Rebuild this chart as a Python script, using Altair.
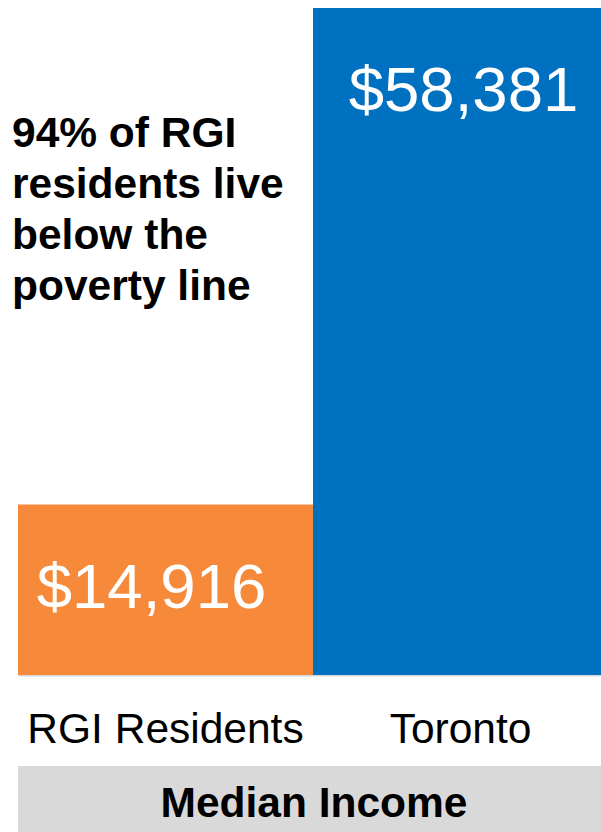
import altair as alt
import pandas as pd

categories = ["RGI Residents", "Toronto"]
values = [14916, 58381]
colors = ["#F78A3A", "#0070C0"]
annotation_lines = ["94% of RGI", "residents live", "below the", "poverty line"]
band_title = ["Median Income"]

FONT = "Liberation Sans"

df = pd.DataFrame({"category": categories, "value": values})
ann_df = pd.DataFrame({"k": [0]})
band_df = pd.DataFrame({"title": band_title})

x_enc = alt.X(
    "category:N",
    sort=categories,
    scale=alt.Scale(paddingInner=0, paddingOuter=0, range=[0, 590]),
    axis=alt.Axis(
        title=None,
        labelAngle=0,
        labelFont=FONT,
        labelFontSize=42.5,
        labelColor="#000000",
        labelLimit=500,
        labelPadding=67,
        labelBaseline="alphabetic",
        ticks=False,
        domainColor="#D9D9D9",
        domainWidth=2,
    ),
)
y_enc = alt.Y("value:Q", scale=alt.Scale(nice=False, zero=True), axis=None)

bars = alt.Chart(df).mark_bar().encode(
    x=x_enc,
    y=y_enc,
    color=alt.Color(
        "category:N",
        scale=alt.Scale(domain=categories, range=colors),
        legend=None,
    ),
)

def value_label(cat, dx):
    return (
        alt.Chart(df)
        .transform_filter(alt.datum.category == cat)
        .mark_text(
            font=FONT,
            fontSize=63.5,
            color="white",
            baseline="alphabetic",
            align="center",
            dy=103,
            dx=dx,
        )
        .encode(
            x=alt.X("category:N", sort=categories),
            y="value:Q",
            text=alt.Text("value:Q", format="$,.0f"),
        )
    )

lab1 = value_label(categories[0], -14)
lab2 = value_label(categories[1], 3)

annotation = alt.Chart(ann_df).mark_text(
    font=FONT,
    fontSize=42.5,
    fontWeight="bold",
    color="#000000",
    align="left",
    baseline="alphabetic",
    lineHeight=51,
).encode(
    x=alt.value(-6),
    y=alt.value(139),
    text=alt.value(annotation_lines),
)

band = alt.Chart(band_df).mark_rect(color="#D9D9D9").encode(
    x=alt.value(0),
    x2=alt.value(583),
    y=alt.value(758),
    y2=alt.value(830),
)

band_text = alt.Chart(band_df).mark_text(
    font=FONT,
    fontSize=42.5,
    fontWeight="bold",
    color="#000000",
    align="center",
    baseline="alphabetic",
).encode(
    x=alt.value(296),
    y=alt.value(809),
    text="title:N",
)

chart = (
    alt.layer(bars, lab1, lab2, annotation, band, band_text)
    .properties(
        width=583,
        height=667,
        autosize=alt.AutoSizeParams(type="none"),
        padding={"left": 18, "top": 8, "right": 0, "bottom": 157},
        background="white",
    )
    .configure_view(stroke=None)
)

chart.save("out.html", embed_options={"renderer": "svg", "actions": False})
